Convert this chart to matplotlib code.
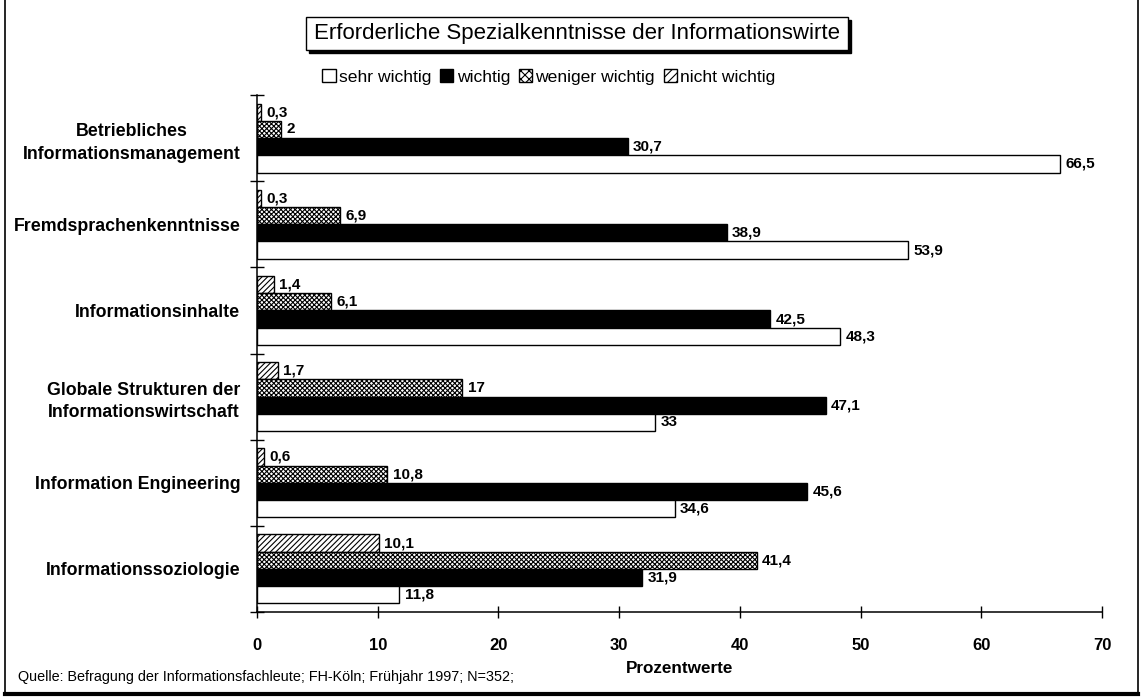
import matplotlib
matplotlib.use("Agg")
import matplotlib.pyplot as plt
import numpy as np
from matplotlib.patches import Rectangle, Patch
from matplotlib.lines import Line2D

plt.rcParams['font.family'] = ['Liberation Sans', 'DejaVu Sans']
plt.rcParams['hatch.linewidth'] = 0.8

categories = [
    "Betriebliches\nInformationsmanagement",
    "Fremdsprachenkenntnisse",
    "Informationsinhalte",
    "Globale Strukturen der\nInformationswirtschaft",
    "Information Engineering",
    "Informationssoziologie",
]
sehr_wichtig = [66.5, 53.9, 48.3, 33.0, 34.6, 11.8]
wichtig = [30.7, 38.9, 42.5, 47.1, 45.6, 31.9]
weniger_wichtig = [2.0, 6.9, 6.1, 17.0, 10.8, 41.4]
nicht_wichtig = [0.3, 0.3, 1.4, 1.7, 0.6, 10.1]
series_names = ["sehr wichtig", "wichtig", "weniger wichtig", "nicht wichtig"]
x_ticks = [0, 10, 20, 30, 40, 50, 60, 70]

W, H = 1142, 699
fig = plt.figure(figsize=(W / 100, H / 100), dpi=100)
fig.patch.set_facecolor("white")

ax = fig.add_axes([257 / W, 1 - 612 / H, (1102 - 257) / W, (612 - 95) / H])

y = np.arange(len(categories))
h = 0.2
styles = [
    # (values, offset, face, hatch)
    (nicht_wichtig, -0.3, "white", "//////"),
    (weniger_wichtig, -0.1, "white", "xxxxxxx"),
    (wichtig, 0.1, "black", None),
    (sehr_wichtig, 0.3, "white", None),
]
label_font = dict(family=['Liberation Sans Narrow', 'Liberation Sans'],
                  fontsize=11, fontweight='bold')

for vals, off, face, hatch in styles:
    bars = ax.barh(y + off, vals, height=h, color=face, edgecolor="black",
                   linewidth=1.0, hatch=hatch)
    for b, v in zip(bars, vals):
        txt = f"{v:g}".replace(".", ",")
        ax.text(b.get_width() + 0.45, b.get_y() + b.get_height() / 2, txt,
                va="center", ha="left", **label_font)

ax.set_xlim(0, 70)
ax.set_ylim(len(categories) - 0.5, -0.5)
ax.set_xticks(x_ticks)
ax.set_xticklabels([str(t) for t in x_ticks], fontsize=12, fontweight='bold')
ax.tick_params(axis='x', direction='inout', length=9, width=1.0, pad=14)

ax.set_yticks(y)
ax.set_yticklabels(categories, fontsize=12.8, fontweight='bold',
                   ha='right', multialignment='center', linespacing=1.45)
ax.tick_params(axis='y', length=0, pad=12)
ax.set_yticks(np.arange(len(categories) + 1) - 0.5, minor=True)
ax.tick_params(axis='y', which='minor', direction='inout', length=10, width=1.0)

for s in ["top", "right"]:
    ax.spines[s].set_visible(False)
for s in ["left", "bottom"]:
    ax.spines[s].set_linewidth(1.1)

ax.set_xlabel("Prozentwerte", fontsize=12.3, fontweight='bold', labelpad=6)

# legend
handles = [
    Patch(facecolor="white", edgecolor="black", linewidth=1.0),
    Patch(facecolor="black", edgecolor="black", linewidth=1.0),
    Patch(facecolor="white", edgecolor="black", linewidth=1.0, hatch="xxxx"),
    Patch(facecolor="white", edgecolor="black", linewidth=1.0, hatch="////"),
]
fig.legend(handles, series_names, loc="center", bbox_to_anchor=(549 / W, 1 - 77 / H),
           ncol=4, frameon=False, fontsize=12.6, handlelength=0.75, handleheight=0.75,
           handletextpad=0.2, columnspacing=0.5, borderaxespad=0)

# title box with drop shadow
tx0, tx1, ty0, ty1 = 306, 848, 17, 50
fig.patches.append(Rectangle(((tx0 + 3) / W, 1 - (ty1 + 3) / H), (tx1 - tx0) / W,
                             (ty1 - ty0) / H, transform=fig.transFigure,
                             facecolor="black", edgecolor="black", zorder=1))
fig.patches.append(Rectangle((tx0 / W, 1 - ty1 / H), (tx1 - tx0) / W,
                             (ty1 - ty0) / H, transform=fig.transFigure,
                             facecolor="white", edgecolor="black", linewidth=1.0,
                             zorder=2))
fig.text((tx0 + tx1) / 2 / W, 1 - (ty0 + ty1) / 2 / H,
         "Erforderliche Spezialkenntnisse der Informationswirte",
         ha="center", va="center", fontsize=16, zorder=3)

fig.text(18 / W, 1 - 677 / H,
         "Quelle: Befragung der Informationsfachleute; FH-Köln; Frühjahr 1997; N=352;",
         ha="left", va="center", fontsize=10.4)

# outer frame
fig.add_artist(Line2D([5 / W, 5 / W], [1 - 694 / H, 1.0], transform=fig.transFigure,
                      color="black", lw=1.2))
fig.add_artist(Line2D([1138 / W, 1138 / W], [1 - 694 / H, 1.0], transform=fig.transFigure,
                      color="black", lw=1.2))
fig.add_artist(Line2D([5 / W, 1138 / W], [1 - 694 / H, 1 - 694 / H],
                      transform=fig.transFigure, color="black", lw=3))

fig.savefig("out.png", dpi=100, facecolor="white")
